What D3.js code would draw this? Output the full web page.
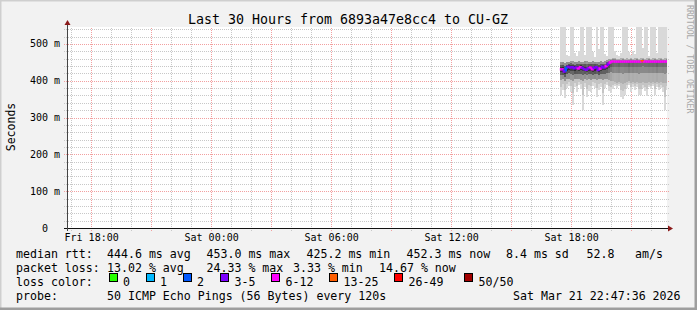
<!DOCTYPE html>
<html>
<head>
<meta charset="utf-8">
<script src="https://cdn.jsdelivr.net/npm/d3@7"></script>
<style>
  html, body { margin: 0; padding: 0; background: #f2f2f2; }
  svg { display: block; font-family: "DejaVu Sans Mono", monospace; }
</style>
</head>
<body>
<svg id="chart" width="697" height="310"></svg>
<script>
// values (ms), one column per 6 minute step from Sat 17:26
const maxPing = [600,600,600,470,468,600,600,475,466,480,600,600,470,600,600,600,478,465,600,485,600,600,472,468,600,600,600,480,470,468,475,600,600,600,478,470,482,472,600,600,600,490,600,600,468,600,600,600,475,600,600,600,600,600];
const minPing = [362,375,352,380,385,370,334,382,370,388,378,320,384,355,372,370,386,380,357,376,384,334,380,388,372,368,378,385,380,386,355,350,360,380,388,370,384,376,384,360,362,380,372,358,382,378,386,361,384,374,380,370,320,376];
const lowerBand = [402,405,400,404,406,402,400,405,404,406,403,400,405,402,404,403,405,406,401,404,406,402,404,406,402,400,398,396,395,397,394,392,395,396,398,394,396,395,397,393,395,396,394,395,397,394,396,395,397,394,396,395,393,395];
const upperBand = [452,450,448,450,452,455,453,450,452,455,452,451,453,455,452,450,454,452,451,450,455,452,454,456,458,460,462,462,460,460,461,462,460,461,460,462,460,461,462,460,461,462,460,461,462,460,461,462,460,461,462,460,461,462];
const medianRtt = [431,431,425,435,438,436,437,434,436,433,437,435,432,430,434,436,431,435,437,429,433,438,436,440,446,450,452,452,452,452,452,452,452,452,452,452,452,452,452,452,452,453,452,452,452,452,452,452,452,452,452,452,452,452];
const lostPings = [7,7,4,2,4,4,5,3,4,8,8,4,4,5,4,8,8,4,3,4,8,4,5,8,4,7,8,8,9,7,8,10,8,7,9,8,7,8,9,8,10,14,8,7,9,8,8,7,9,8,8,10,8,7];

const lossLabels = ["0", "1", "2", "3-5", "6-12", "13-25", "26-49", "50/50"];
const lossColors = ["#26ff00", "#00b8ff", "#0059ff", "#7e00ff", "#ff00ff", "#ff5e00", "#ff0000", "#a10000"];
const yTicks = [0, 100, 200, 300, 400, 500];

const rttRow = ["median rtt:", "444.6 ms avg", "453.0 ms max", "425.2 ms min", "452.3 ms now", "8.4 ms sd", "52.8", "am/s"];
const lossRow = ["packet loss:", "13.02 % avg", "24.33 % max", "3.33 % min", "14.67 % now"];
const probeRow = ["probe:", "50 ICMP Echo Pings (56 Bytes) every 120s", "Sat Mar 21 22:47:36 2026"];

const endTime = new Date(Date.UTC(2026, 2, 21, 22, 47, 36));
const startTime = new Date(+endTime - 30 * 3600 * 1000);
const firstColumn = new Date(Date.UTC(2026, 2, 21, 17, 26));
const step = 6 * 60 * 1000;

const svg = d3.select("#chart");
const W = 697, H = 310;
const plotLeft = 67, plotRight = 667, plotTop = 27, plotBottom = 228;

// frame
svg.append("rect").attr("width", W).attr("height", H).attr("fill", "#f2f2f2");
svg.append("path").attr("d", `M0,${H} V0 H${W}`).attr("stroke", "#cfcfcf").attr("stroke-width", 3).attr("fill", "none");
svg.append("path").attr("d", `M0,${H - 1} H${W - 1} V0`).attr("stroke", "#9e9e9e").attr("stroke-width", 3).attr("fill", "none");

svg.append("rect")
    .attr("x", plotLeft).attr("y", plotTop)
    .attr("width", plotRight - plotLeft).attr("height", plotBottom - plotTop)
    .attr("fill", "#fff");

const x = d3.scaleUtc().domain([startTime, endTime]).range([plotLeft, plotRight]);
const y = d3.scaleLinear().domain([0, 546]).range([plotBottom, plotTop]);

// grid
const grid = svg.append("g").attr("shape-rendering", "crispEdges");
x.ticks(d3.utcHour.every(1)).forEach(t => {
    const major = t.getUTCHours() % 3 === 0;
    grid.append("line")
        .attr("x1", Math.round(x(t)) + 0.5).attr("x2", Math.round(x(t)) + 0.5)
        .attr("y1", plotBottom + 3).attr("y2", plotTop)
        .attr("stroke", major ? "#f2a0a0" : "#c8c8c8")
        .attr("stroke-dasharray", "1,1");
});
d3.range(0, 541, 20).forEach(v => {
    const major = v % 100 === 0;
    grid.append("line")
        .attr("x1", plotLeft - 3).attr("x2", plotRight + 2)
        .attr("y1", Math.round(y(v)) + 0.5).attr("y2", Math.round(y(v)) + 0.5)
        .attr("stroke", major ? "#f2a0a0" : "#c8c8c8")
        .attr("stroke-dasharray", "1,1");
});

// smoke
svg.append("clipPath").attr("id", "plotClip")
    .append("rect").attr("x", plotLeft).attr("y", plotTop).attr("width", plotRight - plotLeft).attr("height", plotBottom - plotTop);
const smoke = svg.append("g").attr("clip-path", "url(#plotClip)").attr("shape-rendering", "crispEdges");

const cols = medianRtt.map((m, i) => {
    const t0 = new Date(+firstColumn + i * step);
    const t1 = new Date(+t0 + step);
    return { t0, t1, hi: maxPing[i], lo: minPing[i], q1: lowerBand[i], q3: upperBand[i], med: m, loss: lostPings[i] };
});

function band(g, a, b, d, color) {
    g.append("rect")
        .attr("x", x(d.t0)).attr("width", x(d.t1) - x(d.t0))
        .attr("y", y(b)).attr("height", y(a) - y(b))
        .attr("fill", color);
}

cols.forEach(d => {
    const spread = Math.max(0, Math.min(1, (d.q3 - d.q1 - 46) / 20));
    band(smoke, d.lo, d.hi, d, "#d9d9d9");
    band(smoke, d.lo + (d.q1 - d.lo) * 0.5, d.q3, d, "#c4c4c4");
    band(smoke, d.q1, d.q3, d, d3.interpolateRgb("#8e8e8e", "#b0b0b0")(spread));
    band(smoke, d.med - (d.med - d.q1) * 0.55, d.med + (d.q3 - d.med) * 0.6, d, d3.interpolateRgb("#555", "#8a8a8a")(spread));
    band(smoke, d.med - (d.med - d.q1) * 0.25, d.med + (d.q3 - d.med) * 0.3, d, d3.interpolateRgb("#2e2e2e", "#6e6e6e")(spread));
});

// median line coloured by loss
function lossColor(n) {
    if (n <= 0) return lossColors[0];
    if (n === 1) return lossColors[1];
    if (n === 2) return lossColors[2];
    if (n <= 5) return lossColors[3];
    if (n <= 12) return lossColors[4];
    if (n <= 25) return lossColors[5];
    if (n <= 49) return lossColors[6];
    return lossColors[7];
}
const medLine = svg.append("g").attr("clip-path", "url(#plotClip)");
cols.forEach((d, i) => {
    const prev = i > 0 ? cols[i - 1].med : d.med;
    medLine.append("path")
        .attr("d", `M${x(d.t0)},${y(prev)} L${x(d.t0)},${y(d.med)} L${x(d.t1)},${y(d.med)}`)
        .attr("fill", "none")
        .attr("stroke", lossColor(d.loss))
        .attr("stroke-width", 2.5);
});

// axes
svg.append("line").attr("x1", plotLeft - 3).attr("x2", plotRight + 3).attr("y1", plotBottom + 0.5).attr("y2", plotBottom + 0.5)
    .attr("stroke", "#111").attr("shape-rendering", "crispEdges");
svg.append("line").attr("x1", plotLeft + 0.5).attr("x2", plotLeft + 0.5).attr("y1", plotBottom + 3).attr("y2", plotTop - 3)
    .attr("stroke", "#444").attr("shape-rendering", "crispEdges");
svg.append("path").attr("d", `M${plotRight + 1},${plotBottom - 2.5} L${plotRight + 6},${plotBottom + 0.5} L${plotRight + 1},${plotBottom + 3.5} Z`).attr("fill", "#8b1a1a");
svg.append("path").attr("d", `M${plotLeft - 2.5},${plotTop - 2} L${plotLeft + 0.5},${plotTop - 7} L${plotLeft + 3.5},${plotTop - 2} Z`).attr("fill", "#8b1a1a");

// tick labels
svg.append("g").selectAll("text")
    .data(yTicks).join("text")
    .attr("x", d => d === 0 ? 48 : 60)
    .attr("y", d => y(d) + 3.5)
    .attr("text-anchor", "end")
    .attr("font-size", 10)
    .text(d => d === 0 ? "0" : `${d} m`);

svg.append("g").selectAll("text")
    .data(x.ticks(d3.utcHour.every(6)))
    .join("text")
    .attr("x", d => x(d) + 0.5)
    .attr("y", 241)
    .attr("text-anchor", "middle")
    .attr("font-size", 10)
    .text(d3.utcFormat("%a %H:%M"));

// titles
svg.append("text").attr("x", 348).attr("y", 24).attr("text-anchor", "middle")
    .attr("font-size", 13.3).text("Last 30 Hours from 6893a47e8cc4 to CU-GZ");
svg.append("text").attr("transform", "translate(15,127) rotate(-90)").attr("text-anchor", "middle")
    .attr("font-size", 11.5).text("Seconds");
svg.append("text").attr("transform", "translate(686.5,5) rotate(90)")
    .attr("font-size", 8.2).attr("fill", "#a8a8a8").text("RRDTOOL / TOBI OETIKER");

// legend
const legend = svg.append("g").attr("font-size", 11.6);
const rttX = [16, 107, 206.5, 306.5, 406.5, 506, 586.5, 635];
rttRow.forEach((s, i) => legend.append("text").attr("x", rttX[i]).attr("y", 258.3).text(s));
const lossX = [16, 107, 206.5, 293, 379];
lossRow.forEach((s, i) => legend.append("text").attr("x", lossX[i]).attr("y", 272).text(s));
legend.append("text").attr("x", 16).attr("y", 285.8).text("loss color:");
const boxX = [108.5, 145.5, 182.5, 220, 271, 329, 394, 464];
lossLabels.forEach((s, i) => {
    legend.append("rect").attr("x", boxX[i] + 0.5).attr("y", 273.5).attr("width", 8).attr("height", 8)
        .attr("fill", lossColors[i]).attr("stroke", "#000").attr("shape-rendering", "crispEdges");
    legend.append("text").attr("x", boxX[i] + 14.5).attr("y", 285.8).text(s);
});
const probeX = [16, 107, 513];
probeRow.forEach((s, i) => legend.append("text").attr("x", probeX[i]).attr("y", 299.5).text(s));
</script>
</body>
</html>
